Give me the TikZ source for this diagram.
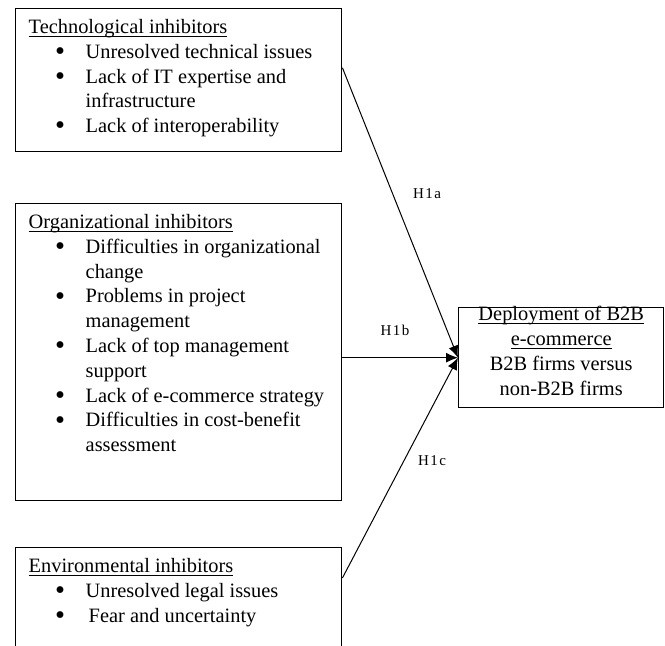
\documentclass[tikz,border=0pt]{standalone}
\usepackage{fontspec}
\setmainfont{Liberation Serif}
\newfontfamily\hfont[LetterSpace=10]{Liberation Serif}
\usetikzlibrary{arrows.meta,calc,positioning}

% bullet lines inside the inhibitor boxes
\newcommand{\bdot}{\smash{\raisebox{-1.1pt}{\scalebox{1.4}{\textbullet}}}}
\newcommand{\bitem}[1]{\hspace*{13.2pt}\makebox[15.3pt][l]{\bdot}#1}
\newcommand{\bcont}[1]{\hspace*{28.5pt}#1}
\newcommand{\ultitle}[1]{\strut\underline{\smash{#1}}}

\tikzset{
	inhbox/.style={draw,line width=0.7pt,anchor=north west,inner xsep=6.5pt,inner ysep=3.7pt,
		font=\fontsize{10.2}{12.4}\selectfont},
	depbox/.style={draw,line width=0.7pt,anchor=north west,align=center,inner sep=0pt,
		minimum width=102.5pt,minimum height=50pt,font=\fontsize{10.2}{12.5}\selectfont},
	link/.style={line width=0.5pt,-{Latex[length=6pt,width=5pt]}},
	hlab/.style={font=\hfont\fontsize{7.5}{9}\selectfont,inner sep=0pt}
}

\begin{document}
\begin{tikzpicture}[x=0.5pt,y=-0.5pt]
	\clip (0,0) rectangle (665,645);
	
	% the three groups of inhibitors
	\node[inhbox] (tech) at (15,8) {\parbox[c][64.1pt][t]{150pt}{%
			\ultitle{Technological inhibitors}\\
			\bitem{Unresolved technical issues}\\
			\bitem{Lack of IT expertise and}\\
			\bcont{infrastructure}\\
			\bitem{Lack of interoperability}}};
	\node[inhbox] (org) at (15,203) {\parbox[c][141.1pt][t]{150pt}{%
			\ultitle{Organizational inhibitors}\\
			\bitem{Difficulties in organizational}\\
			\bcont{change}\\
			\bitem{Problems in project}\\
			\bcont{management}\\
			\bitem{Lack of top management}\\
			\bcont{support}\\
			\bitem{Lack of e-commerce strategy}\\
			\bitem{Difficulties in cost-benefit}\\
			\bcont{assessment}}};
	\node[inhbox] (env) at (15,547) {\parbox[c][62.6pt][t]{150pt}{%
			\ultitle{Environmental inhibitors}\\
			\bitem{Unresolved legal issues}\\
			\bitem{\hspace{1.5pt}Fear and uncertainty}}};
	
	% outcome
	\node[depbox] (dep) at (458,307) {\underline{\smash{Deployment of B2B}}\\
		\underline{\smash{e-commerce}}\\
		B2B firms versus\\
		non-B2B firms};
	
	% hypotheses
	\draw[link] ([yshift=6.25pt]tech.east) -- (dep.west);
	\draw[link] (org.east |- dep.west) -- (dep.west);
	\draw[link] ([yshift=-15.5pt]env.north east) -- (dep.west);
	
	\node[hlab] (h1a) at (427,194) {H1a};
	\node[hlab] (h1b) at (395,330) {H1b};
	\node[hlab] (h1c) at (432,461) {H1c};
	
\end{tikzpicture}
\end{document}
